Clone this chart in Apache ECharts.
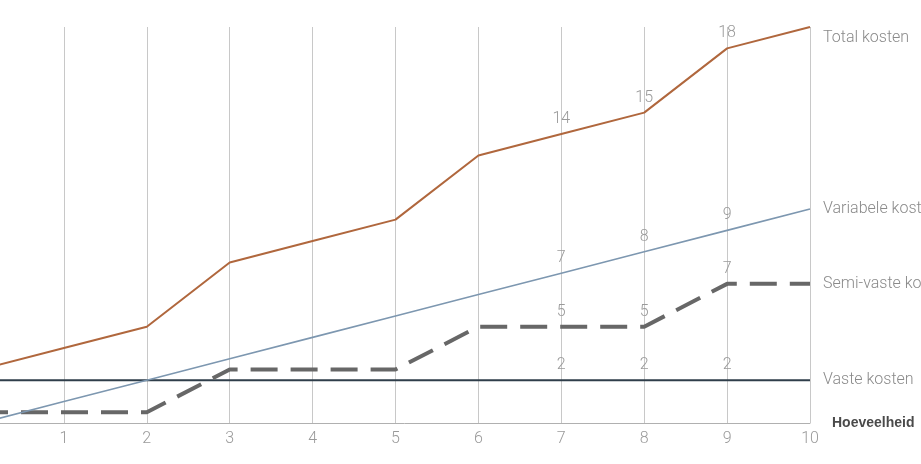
<!DOCTYPE html>
<html>
<head>
<meta charset="utf-8">
<script src="https://cdn.jsdelivr.net/npm/echarts@6/dist/echarts.min.js"></script>
<style>html,body{margin:0;padding:0;background:#fff}#c{width:921px;height:464px}</style>
</head>
<body>
<div id="c"></div>
<script>
const xValues = [0, 1, 2, 3, 4, 5, 6, 7, 8, 9, 10];
const vasteKosten = [2, 2, 2, 2, 2, 2, 2, 2, 2, 2, 2];
const variabeleKosten = [0, 1, 2, 3, 4, 5, 6, 7, 8, 9, 10];
const semiVasteKosten = [0.5, 0.5, 0.5, 2.5, 2.5, 2.5, 4.5, 4.5, 4.5, 6.5, 6.5];
const totalKosten = [2.5, 3.5, 4.5, 7.5, 8.5, 9.5, 12.5, 13.5, 14.5, 17.5, 18.5];
const labelledX = [7, 8, 9];
const seriesNames = ['Total kosten', 'Variabele kosten', 'Semi-vaste kosten', 'Vaste kosten'];

const FONT = 'Roboto';
function build(vals) {
  return vals.map((v, i) => ({
    value: [xValues[i], v],
    label: { show: labelledX.includes(xValues[i]) }
  }));
}
function mk(name, vals, lineStyle, endOffset) {
  return {
    name, type: 'line', data: build(vals),
    symbol: 'circle', symbolSize: 0, showSymbol: true,
    itemStyle: { color: lineStyle.color },
    lineStyle,
    label: {
      position: 'top', distance: 7, color: '#9a9a9a', fontSize: 16, fontFamily: FONT, fontWeight: 300,
      formatter: p => String(Math.round(p.value[1]))
    },
    labelLayout: { hideOverlap: false },
    endLabel: {
      show: true, formatter: name, color: '#8a8a8a', fontSize: 16, fontFamily: FONT, fontWeight: 300,
      distance: 13, offset: endOffset || [0, 0]
    },
    emphasis: { disabled: true }
  };
}
const chart = echarts.init(document.getElementById('c'));
chart.setOption({
  animation: false,
  grid: { left: -19, right: 111, top: 27, bottom: 41, containLabel: false, outerBoundsMode: 'none' },
  xAxis: {
    type: 'value', min: 0, max: 10, interval: 1,
    axisLine: { lineStyle: { color: '#b0b0b0', width: 1 } },
    axisTick: { show: false },
    axisLabel: { color: '#9a9a9a', fontSize: 16, fontFamily: FONT, fontWeight: 300, margin: 8 },
    splitLine: { show: true, lineStyle: { color: '#c8c8c8', width: 1 } },
    name: 'Hoeveelheid', nameLocation: 'end', nameGap: 22,
    nameTextStyle: { color: '#4a4a4a', fontSize: 14, fontWeight: 'bold', fontFamily: 'Liberation Sans', verticalAlign: 'middle' }
  },
  yAxis: { type: 'value', min: 0, max: 18.5, show: false, splitLine: { show: false } },
  series: [
    mk(seriesNames[3], vasteKosten, { color: '#2f3e4a', width: 2 }),
    mk(seriesNames[2], semiVasteKosten, { color: '#676767', width: 4, type: [27, 13] }),
    mk(seriesNames[1], variabeleKosten, { color: '#7d97b0', width: 1.6 }),
    mk(seriesNames[0], totalKosten, { color: '#b0673d', width: 2 }, [0, 11])
  ]
});
</script>
</body>
</html>
